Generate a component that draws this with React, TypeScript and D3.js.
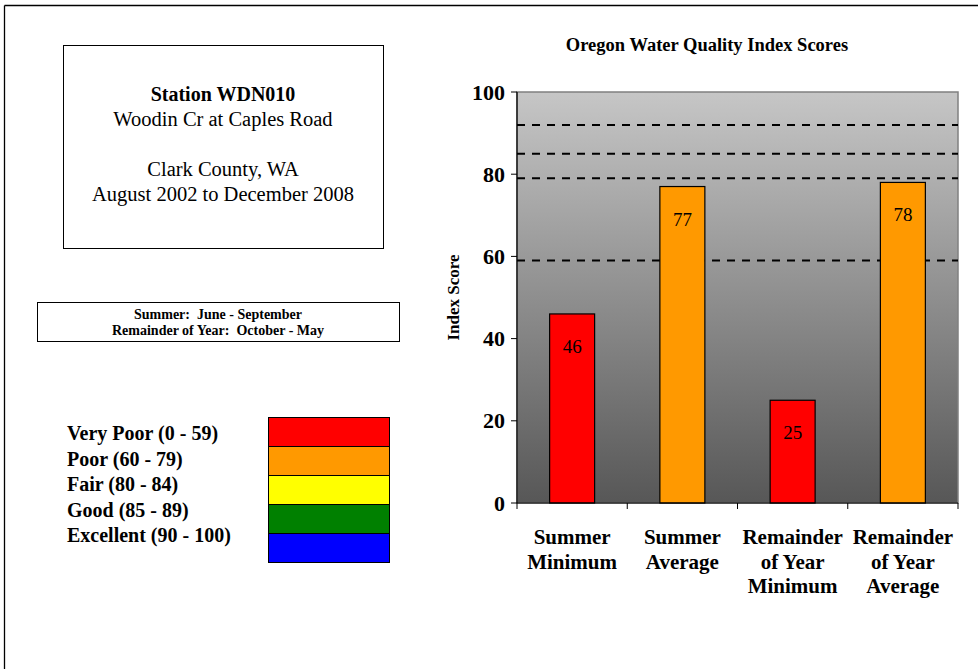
import React from "react";
import * as d3 from "d3";

const categories = [
  ["Summer", "Minimum"],
  ["Summer", "Average"],
  ["Remainder", "of Year", "Minimum"],
  ["Remainder", "of Year", "Average"],
];
const values = [46, 77, 25, 78];
const barColors = ["#ff0000", "#ff9900", "#ff0000", "#ff9900"];
const yTicks = [0, 20, 40, 60, 80, 100];
const thresholds = [59, 79, 85, 92];

const legendLabels = [
  "Very Poor (0 - 59)",
  "Poor (60 - 79)",
  "Fair (80 - 84)",
  "Good (85 - 89)",
  "Excellent (90 - 100)",
];
const legendColors = ["#ff0000", "#ff9900", "#ffff00", "#008000", "#0000ff"];

const stationLines = ["Station WDN010", "Woodin Cr at Caples Road", "", "Clark County, WA", "August 2002 to December 2008"];
const seasonLines = ["Summer:  June - September", "Remainder of Year:  October - May"];

const FONT = "'Liberation Serif', 'Times New Roman', serif";

export default function App() {
  const W = 978;
  const H = 669;
  const left = 517, right = 958, top = 92, bottom = 503;
  const y = d3.scaleLinear().domain([0, 100]).range([bottom, top]);
  const x = d3
    .scaleBand<number>()
    .domain(d3.range(categories.length))
    .range([left, right])
    .paddingInner(0.592)
    .paddingOuter(0.296);
  const step = x.step();
  const bounds = d3.range(categories.length + 1).map((i) => left + i * step);

  const legendY = d3.scaleBand<number>().domain(d3.range(legendColors.length)).range([417, 562]);

  return (
    <div style={{ position: "absolute", left: 0, top: 0 }}>
      <svg width={W} height={H} style={{ display: "block", fontFamily: FONT }}>
        <rect x={0} y={0} width={W} height={H} fill="#fff" />
        <line x1={4.5} x2={W} y1={5.5} y2={5.5} stroke="#000" strokeWidth={1.3} />
        <line x1={4.5} x2={4.5} y1={5.5} y2={H} stroke="#000" strokeWidth={1.3} />

        {/* station box */}
        <rect x={63.5} y={45.5} width={320} height={203} fill="#fff" stroke="#000" />
        {stationLines.map((t, i) => (
          <text key={i} x={223} y={101 + i * 25} textAnchor="middle" fontSize={i === 0 ? 20 : 20.5}
            fontWeight={i === 0 ? "bold" : "normal"} fill="#000">{t}</text>
        ))}

        {/* season box */}
        <rect x={37.5} y={302.5} width={362} height={39} fill="#fff" stroke="#000" />
        {seasonLines.map((t, i) => (
          <text key={i} x={218} y={319 + i * 15.5} textAnchor="middle" fontSize={14} fontWeight="bold"
            style={{ whiteSpace: "pre" }}>{t}</text>
        ))}

        {/* legend */}
        {legendLabels.map((t, i) => (
          <text key={i} x={67} y={440 + i * 25.5} fontSize={20} fontWeight="bold">{t}</text>
        ))}
        {legendColors.map((c, i) => (
          <rect key={i} x={268.5} y={(legendY(i) as number) + 0.5} width={121} height={legendY.bandwidth()}
            fill={c} stroke="#000" strokeWidth={1} />
        ))}

        {/* chart */}
        <defs>
          <linearGradient id="bg" x1="0" y1="0" x2="0" y2="1">
            <stop offset="0" stopColor="#c6c6c6" />
            <stop offset="1" stopColor="#575757" />
          </linearGradient>
        </defs>
        <text x={707} y={51} textAnchor="middle" fontSize={18.5} fontWeight="bold">Oregon Water Quality Index Scores</text>
        <rect x={left} y={top} width={right - left} height={bottom - top} fill="url(#bg)" stroke="#808080" strokeWidth={1.5} />

        {thresholds.map((v) => (
          <line key={v} x1={left} x2={right} y1={y(v)} y2={y(v)} stroke="#000" strokeWidth={2} strokeDasharray="8 7" />
        ))}

        {values.map((v, i) => (
          <g key={i}>
            <rect x={x(i)} y={y(v)} width={x.bandwidth()} height={bottom - y(v)} fill={barColors[i]} stroke="#000" strokeWidth={1.2} />
            <text x={(x(i) as number) + x.bandwidth() / 2} y={y(v) + 39} textAnchor="middle" fontSize={19}>{v}</text>
          </g>
        ))}

        {/* axes */}
        <line x1={left} x2={left} y1={top} y2={bottom} stroke="#000" strokeWidth={1.2} />
        <line x1={left} x2={right} y1={bottom} y2={bottom} stroke="#000" strokeWidth={1.2} />
        {yTicks.map((t) => (
          <g key={t}>
            <line x1={left - 6} x2={left} y1={y(t)} y2={y(t)} stroke="#000" />
            <text x={505} y={y(t) + 7.5} textAnchor="end" fontSize={22} fontWeight="bold">{t}</text>
          </g>
        ))}
        {bounds.map((b, i) => (
          <line key={i} x1={b} x2={b} y1={bottom} y2={bottom + 6} stroke="#000" />
        ))}
        {categories.map((lines, i) => (
          <text key={i} textAnchor="middle" fontSize={21} fontWeight="bold">
            {lines.map((l, j) => (
              <tspan key={j} x={left + (i + 0.5) * step} y={544 + j * 24.5}>{l}</tspan>
            ))}
          </text>
        ))}
        <text transform={`translate(459,${(top + bottom) / 2}) rotate(-90)`} textAnchor="middle" fontSize={17} fontWeight="bold">Index Score</text>
      </svg>
    </div>
  );
}
